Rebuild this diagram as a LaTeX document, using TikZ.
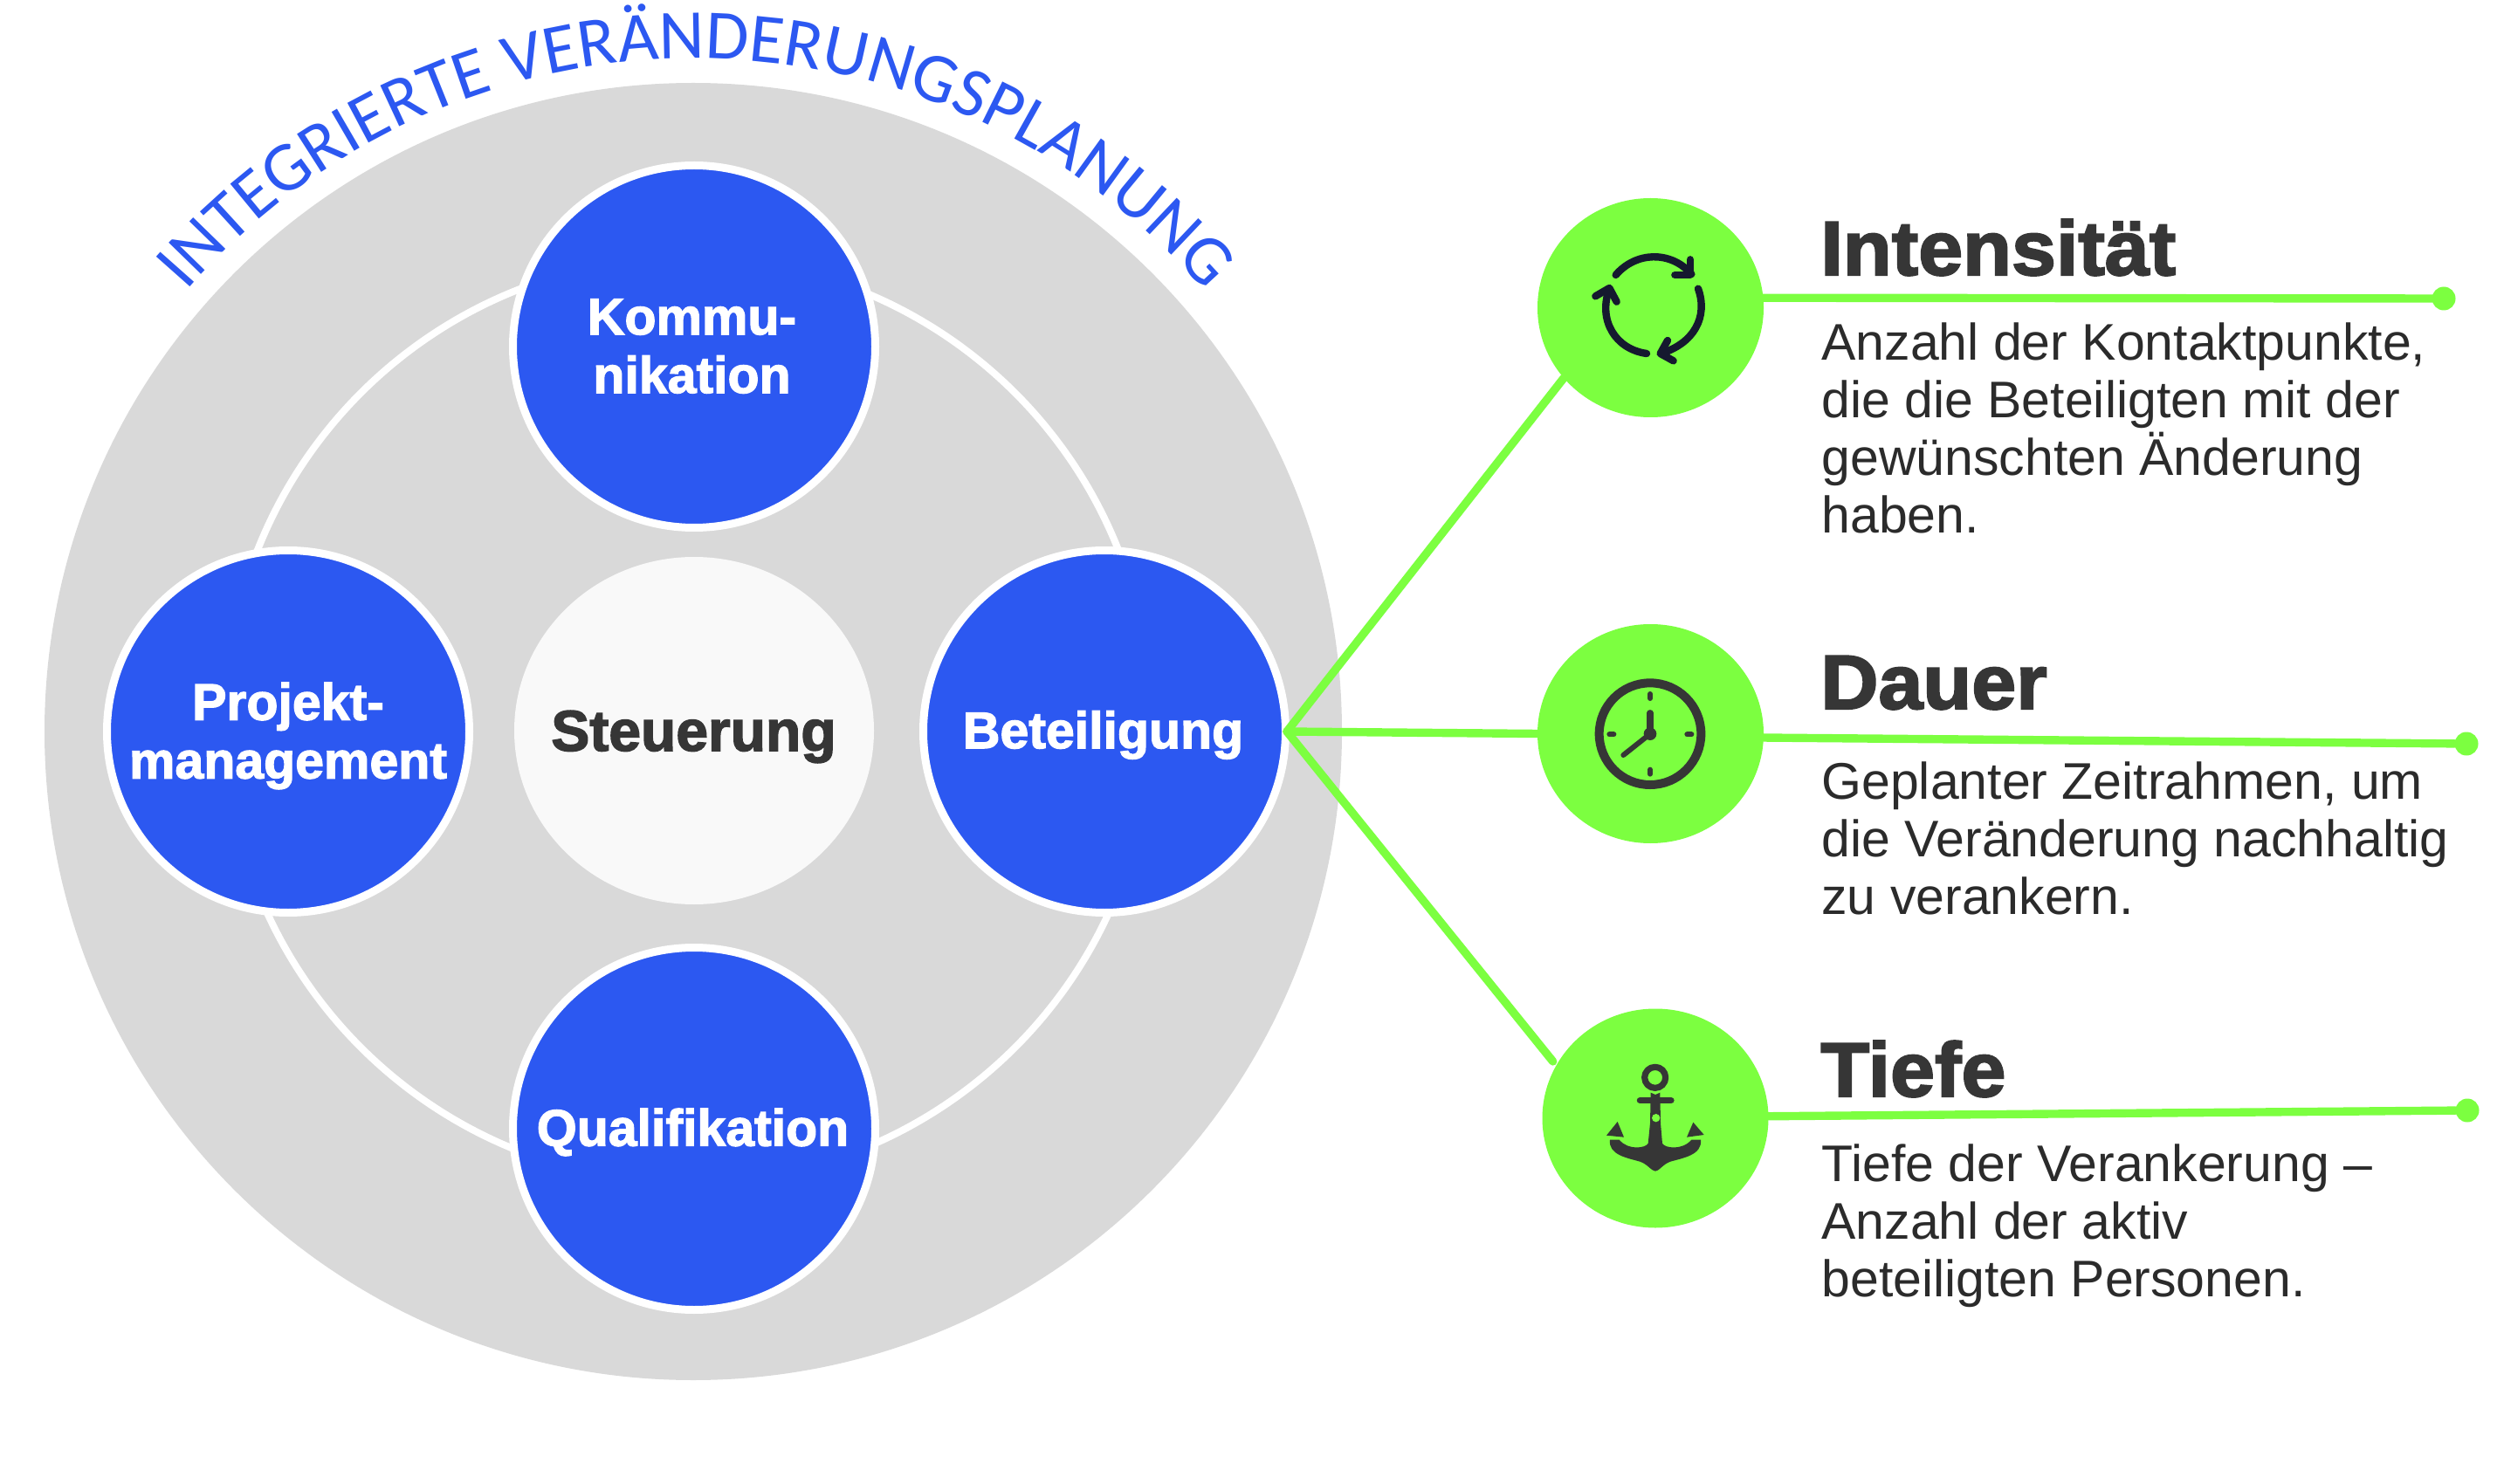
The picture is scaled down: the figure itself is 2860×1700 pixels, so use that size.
\documentclass[tikz,border=0pt]{standalone}
\usepackage{fontspec}
\usetikzlibrary{decorations.text,shapes.geometric}
\setmainfont{Liberation Sans}
\newfontfamily\heavyfont[FakeBold=2.2]{Liberation Sans Bold}
\newfontfamily\headfont[FakeBold=2.4,FakeStretch=1.04]{Liberation Sans Bold}
\newfontfamily\curvefont{Carlito}
\definecolor{ringgrey}{HTML}{D9D9D9}
\definecolor{mainblue}{HTML}{2C58F1}
\definecolor{limegreen}{HTML}{7CFF40}
\definecolor{inkgrey}{HTML}{363636}
\definecolor{inknavy}{HTML}{15192F}
\definecolor{softwhite}{HTML}{F9F9F9}
\tikzset{
  x=0.5pt,y=-0.5pt,
  bluenode/.style={circle,fill=mainblue,draw=white,line width=4.5pt,minimum size=207.5pt,inner sep=0pt},
  bluetext/.style={inner sep=0pt,text=white,align=center,font=\heavyfont\fontsize{29.5pt}{33.5pt}\selectfont},
  greennode/.style={ellipse,fill=limegreen,inner sep=0pt,outer sep=0pt,minimum width=129.5pt,minimum height=125.5pt},
  enddot/.style={circle,fill=limegreen,inner sep=0pt,outer sep=0pt,minimum size=13.5pt},
  greenline/.style={draw=limegreen,line width=4.7pt,line cap=round},
  headtext/.style={anchor=base west,inner sep=0pt,text=inkgrey,font=\headfont\fontsize{44pt}{45pt}\selectfont},
  bodytext/.style={anchor=north west,inner sep=0pt,align=left,text=inkgrey!80!black,font=\fontsize{29.5pt}{33pt}\selectfont},
  iconnavy/.style={draw=inknavy,line width=4.2pt,line cap=round,line join=round},
  icongrey/.style={draw=inkgrey,line cap=round,line join=round},
}
\begin{document}
\begin{tikzpicture}
\useasboundingbox (0,0) rectangle (2860,1700);
\node[circle,fill=ringgrey,inner sep=0pt,minimum size=743pt] (outer) at (794,838) {};
\node[circle,draw=white,line width=4pt,inner sep=0pt,minimum size=530pt] (ring) at (788,825) {};
\path[decorate,decoration={text along path,text align=center,text={|\curvefont\fontsize{40.2pt}{41pt}\selectfont\color{mainblue}|INTEGRIERTE VERÄNDERUNGSPLANUNG}}]
  (797,838) ++(218:771) arc (218:322:771);
\node[bluenode] (komm) at (795,397) {};
\node[bluenode] (proj) at (330,838) {};
\node[bluenode] (bet) at (1265,838) {};
\node[bluenode] (qual) at (795,1293) {};
\node[ellipse,fill=softwhite,inner sep=0pt,outer sep=0pt,minimum width=206pt,minimum height=199pt] (steu) at (795,837) {};
\node[bluetext] (kommt) at (792.5,396.6) {Kommu-\\nikation};
\node[bluetext] (projt) at (330,843) {Projekt-\\management};
\node[bluetext] (bett) at (1263.5,842) {Beteiligung};
\node[bluetext] (qualt) at (793.5,1297) {Qualifikation};
\node[inner sep=0pt,text=inkgrey,font=\heavyfont\fontsize{33pt}{33pt}\selectfont] (steut) at (794.5,844) {Steuerung};
\node[greennode] (g1) at (1890.5,352.5) {};
\node[greennode] (g2) at (1890.5,840.5) {};
\node[greennode] (g3) at (1896,1281) {};
\node[enddot] (d1) at (2799,342) {};
\node[enddot] (d2) at (2825,852) {};
\node[enddot] (d3) at (2826,1272) {};
\coordinate (hub) at ([xshift=-1.5pt]bet.east);
\draw[greenline] (hub) -- (g1.219);
\draw[greenline] (hub) -- (g2.west);
\draw[greenline,shorten >=3pt] (hub) -- (g3.152);
\draw[greenline] (g1.5) -- (d1);
\draw[greenline] (g2.-2) -- (d2);
\draw[greenline] (g3.1) -- (d3);
\node[headtext] (h1) at (2085,315) {Intensität};
\node[headtext] (h2) at (2085,812) {Dauer};
\node[headtext] (h3) at (2085,1256) {Tiefe};
\node[bodytext] (b1) at (2086,369) {Anzahl der Kontaktpunkte,\\die die Beteiligten mit der\\gewünschten Änderung\\haben.};
\node[bodytext] (b2) at (2086,872) {Geplanter Zeitrahmen, um\\die Veränderung nachhaltig\\zu verankern.};
\node[bodytext] (b3) at (2086,1310) {Tiefe der Verankerung –\\Anzahl der aktiv\\beteiligten Personen.};
% cycle icon
\begin{scope}[shift={(1700,200)},x=0.16667pt,y=-0.16667pt]
\draw[iconnavy] (452,345) .. controls (520,265) and (640,260) .. (712,342);
\draw[iconnavy] (708,292) -- (708,345) -- (655,345);
\draw[iconnavy] (735,392) .. controls (770,490) and (720,580) .. (607,615);
\draw[iconnavy] (630,570) -- (605,615) -- (650,640);
\draw[iconnavy] (558,615) .. controls (450,600) and (390,500) .. (430,392);
\draw[iconnavy] (382,418) -- (430,390) -- (455,437);
\end{scope}
% clock icon
\begin{scope}[shift={(1700,700)},x=0.16667pt,y=-0.16667pt]
\draw[icongrey,line width=5pt] (570,422) circle (175);
\draw[icongrey,line width=3pt] (570,285) -- (570,300) (570,545) -- (570,560) (430,424) -- (445,424) (697,424) -- (712,424);
\draw[icongrey,line width=3.6pt] (570,422) -- (570,350);
\draw[icongrey,line width=3pt] (570,422) -- (478,495);
\fill[inkgrey] (570,422) circle (22);
\end{scope}
% anchor icon
\begin{scope}[shift={(1700,1140)},x=0.16667pt,y=-0.16667pt]
\draw[icongrey,line width=3.6pt] (587,283) circle (36);
\draw[icongrey,line width=3.6pt] (535,362) -- (642,362);
\fill[inkgrey] (572,335) -- (588,342) -- (604,335) -- (606,440) -- (612,510)
  .. controls (620,525) and (680,535) .. (712,497) -- (744,497)
  .. controls (750,550) and (680,560) .. (640,572) .. controls (615,580) and (600,605) .. (588,605)
  .. controls (576,605) and (560,580) .. (535,572) .. controls (495,560) and (425,550) .. (432,497) -- (464,497)
  .. controls (495,535) and (555,525) .. (563,510) -- (570,440) -- cycle;
\fill[limegreen] (590,422) circle (14);
\fill[inkgrey] (458,435) -- (420,482) -- (480,488) -- cycle;
\fill[inkgrey] (718,437) -- (696,488) -- (755,480) -- cycle;
\end{scope}
\end{tikzpicture}
\end{document}
